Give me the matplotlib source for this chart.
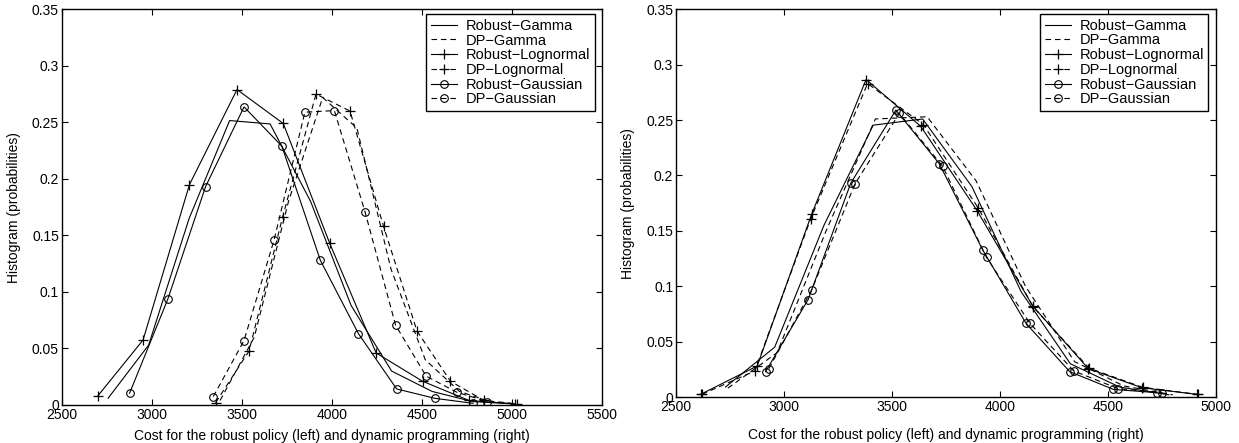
import matplotlib
matplotlib.use("Agg")
import matplotlib.pyplot as plt

plt.rcParams['font.family'] = ['Liberation Sans', 'DejaVu Sans']

# ---------------- Left panel data ----------------
L_rob_gamma_x = [2758, 2983, 3208, 3433, 3658, 3883, 4108, 4333, 4558, 4783, 5008]
L_rob_gamma_y = [0.006, 0.053, 0.165, 0.2516, 0.2486, 0.180, 0.088, 0.030, 0.012, 0.003, 0.001]
L_dp_gamma_x = [3380, 3570, 3760, 3950, 4140, 4330, 4520, 4710, 4900]
L_dp_gamma_y = [0.004, 0.060, 0.180, 0.272, 0.245, 0.120, 0.040, 0.012, 0.002]
L_rob_logn_x = [2699, 2952, 3210, 3474, 3731, 3989, 4247, 4505, 4763, 5020]
L_rob_logn_y = [0.0077, 0.0575, 0.195, 0.279, 0.249, 0.143, 0.046, 0.021, 0.004, 0.001]
L_dp_logn_x = [3355, 3541, 3727, 3913, 4102, 4288, 4474, 4660, 4846, 5032]
L_dp_logn_y = [0.002, 0.0478, 0.166, 0.275, 0.260, 0.158, 0.0655, 0.021, 0.004, 0.001]
L_rob_gaus_x = [2877, 3089, 3299, 3513, 3723, 3937, 4149, 4361, 4573, 4785]
L_rob_gaus_y = [0.0104, 0.0934, 0.193, 0.2637, 0.229, 0.128, 0.063, 0.0142, 0.0059, 0.0015]
L_dp_gaus_x = [3342, 3513, 3680, 3851, 4015, 4185, 4355, 4525, 4695, 4865]
L_dp_gaus_y = [0.0074, 0.057, 0.146, 0.259, 0.2604, 0.171, 0.0706, 0.0255, 0.0113, 0.003]

# ---------------- Right panel data ----------------
R_rob_gamma_x = [2729, 2957, 3185, 3413, 3642, 3870, 4098, 4326, 4554, 4782]
R_rob_gamma_y = [0.009, 0.045, 0.155, 0.2454, 0.251, 0.190, 0.095, 0.030, 0.009, 0.002]
R_dp_gamma_x = [2740, 2968, 3195, 3423, 3663, 3890, 4118, 4345, 4573, 4800]
R_dp_gamma_y = [0.008, 0.040, 0.150, 0.251, 0.253, 0.195, 0.100, 0.032, 0.010, 0.002]
R_rob_logn_x = [2614, 2876, 3128, 3380, 3633, 3895, 4151, 4409, 4657, 4912]
R_rob_logn_y = [0.0024, 0.028, 0.165, 0.2866, 0.2444, 0.168, 0.0824, 0.0256, 0.0084, 0.0024]
R_dp_logn_x = [2620, 2865, 3124, 3387, 3645, 3898, 4155, 4413, 4660, 4915]
R_dp_logn_y = [0.0024, 0.0235, 0.161, 0.283, 0.246, 0.171, 0.081, 0.026, 0.0088, 0.0024]
R_rob_gaus_x = [2915, 3112, 3309, 3518, 3719, 3920, 4121, 4323, 4525, 4726]
R_rob_gaus_y = [0.023, 0.088, 0.193, 0.259, 0.2106, 0.1328, 0.0664, 0.0229, 0.0069, 0.0039]
R_dp_gaus_x = [2930, 3128, 3329, 3534, 3734, 3938, 4139, 4342, 4548, 4749]
R_dp_gaus_y = [0.0256, 0.0966, 0.1925, 0.256, 0.2085, 0.126, 0.0664, 0.0235, 0.0075, 0.0039]

legend_labels = ['Robust\u2212Gamma', 'DP\u2212Gamma', 'Robust\u2212Lognormal',
                 'DP\u2212Lognormal', 'Robust\u2212Gaussian', 'DP\u2212Gaussian']
xlabel_text = 'Cost for the robust policy (left) and dynamic programming (right)'
ylabel_text = 'Histogram (probabilities)'

FS = 10
LFS = 10.5
LW = 0.8
DASH = (5, 3.5)

fig = plt.figure(figsize=(12.39, 4.43), dpi=100)
axL = fig.add_axes([0.0498, 0.0858, 0.4358, 0.8932])
axR = fig.add_axes([0.5456, 0.1038, 0.4358, 0.8752])


def draw(ax, data):
    styles = [
        dict(ls='-', marker=None),
        dict(ls='--', marker=None),
        dict(ls='-', marker='+'),
        dict(ls='--', marker='+'),
        dict(ls='-', marker='o'),
        dict(ls='--', marker='o'),
    ]
    handles = []
    for (x, y), st, lab in zip(data, styles, legend_labels):
        kw = dict(color='black', lw=LW, label=lab)
        if st['marker'] == '+':
            kw.update(marker='+', markersize=6.5, markeredgewidth=0.9)
        elif st['marker'] == 'o':
            kw.update(marker='o', markersize=5.5, markerfacecolor='none',
                      markeredgewidth=0.8)
        h, = ax.plot(x, y, **kw)
        if st['ls'] == '--':
            h.set_dashes(DASH)
        handles.append(h)
    return handles


hL = draw(axL, [(L_rob_gamma_x, L_rob_gamma_y), (L_dp_gamma_x, L_dp_gamma_y),
                (L_rob_logn_x, L_rob_logn_y), (L_dp_logn_x, L_dp_logn_y),
                (L_rob_gaus_x, L_rob_gaus_y), (L_dp_gaus_x, L_dp_gaus_y)])
hR = draw(axR, [(R_rob_gamma_x, R_rob_gamma_y), (R_dp_gamma_x, R_dp_gamma_y),
                (R_rob_logn_x, R_rob_logn_y), (R_dp_logn_x, R_dp_logn_y),
                (R_rob_gaus_x, R_rob_gaus_y), (R_dp_gaus_x, R_dp_gaus_y)])

axL.set_xlim(2500, 5500)
axR.set_xlim(2500, 5000)
for ax in (axL, axR):
    ax.set_ylim(0, 0.35)
    ax.set_yticks([0, 0.05, 0.1, 0.15, 0.2, 0.25, 0.3, 0.35])
    ax.set_yticklabels(['0', '0.05', '0.1', '0.15', '0.2', '0.25', '0.3', '0.35'])
    ax.tick_params(direction='in', top=True, right=True, length=4.5, width=0.8,
                   labelsize=FS, pad=2, colors='black')
    for s in ax.spines.values():
        s.set_linewidth(1.0)
        s.set_color('black')
    ax.set_ylabel(ylabel_text, fontsize=FS, labelpad=8)

axL.set_xticks([2500, 3000, 3500, 4000, 4500, 5000, 5500])
axR.set_xticks([2500, 3000, 3500, 4000, 4500, 5000])
axL.set_xlabel(xlabel_text, fontsize=FS, labelpad=5)
axR.set_xlabel(xlabel_text, fontsize=FS, labelpad=10)


def legend(ax, anchor):
    lg = ax.legend(loc='upper right', bbox_to_anchor=anchor, fontsize=LFS,
                   frameon=True, fancybox=False, shadow=False, framealpha=1,
                   edgecolor='black', borderpad=0.3, labelspacing=0.05,
                   handlelength=1.8, handletextpad=0.6, borderaxespad=0)
    lg.get_frame().set_linewidth(1.0)
    return lg


legend(axL, (0.987, 0.987))
legend(axR, (0.986, 0.987))

fig.savefig('out.png', dpi=100)
